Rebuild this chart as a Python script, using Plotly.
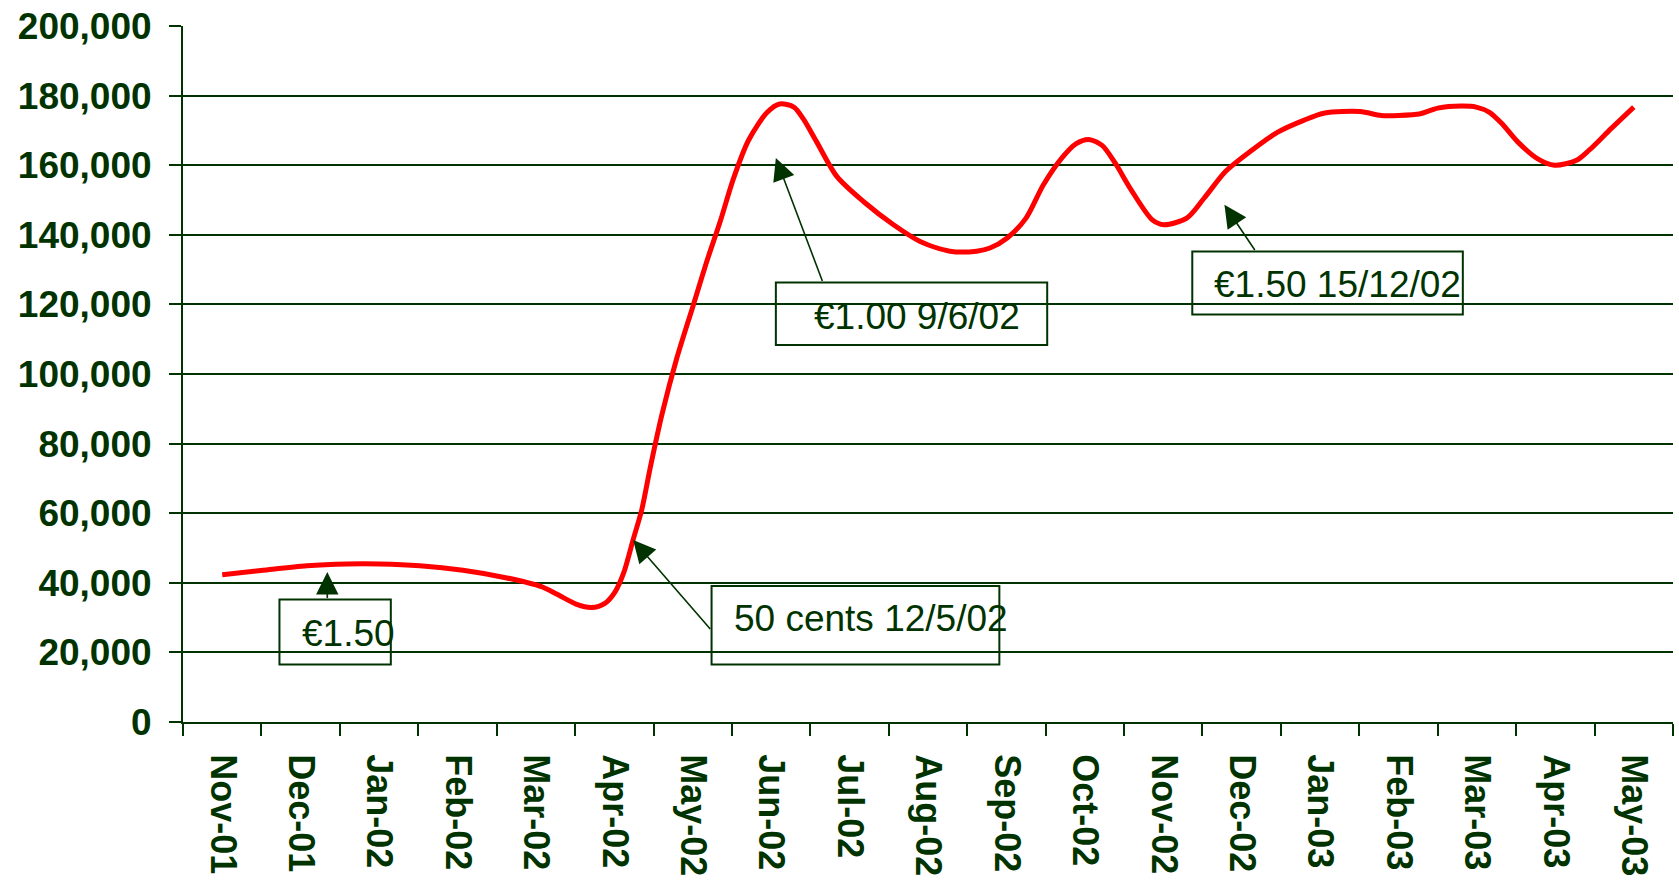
import plotly.graph_objects as go

months = ['Nov-01', 'Dec-01', 'Jan-02', 'Feb-02', 'Mar-02', 'Apr-02', 'May-02',
          'Jun-02', 'Jul-02', 'Aug-02', 'Sep-02', 'Oct-02', 'Nov-02', 'Dec-02',
          'Jan-03', 'Feb-03', 'Mar-03', 'Apr-03', 'May-03']

# position along the month axis (0 = Nov-01) and the weekly readings
week_pos = [0.00, 0.52, 1.08, 1.59, 2.01, 2.52, 3.07, 3.63, 4.07, 4.27, 4.52,
            4.71, 4.88, 5.01, 5.12, 5.24, 5.35, 5.46, 5.61, 5.80, 6.01, 6.18,
            6.35, 6.52, 6.71, 6.95, 7.11, 7.29, 7.41, 7.58, 7.84, 8.18, 8.56,
            8.90, 9.28, 9.62, 9.79, 10.01, 10.25, 10.47, 10.70, 10.89, 11.05,
            11.22, 11.39, 11.58, 11.86, 12.01, 12.30, 12.52, 12.79, 13.02,
            13.46, 13.79, 14.06, 14.51, 14.78, 15.00, 15.28, 15.50, 15.80,
            15.99, 16.16, 16.32, 16.52, 16.77, 16.99, 17.27, 17.43, 17.71, 18.00]
visitors = [42300, 43600, 44900, 45400, 45400, 44900, 43600, 41400, 38900, 36700, 33800,
            32900, 34100, 37400, 42900, 52400, 61000, 73300, 88600, 104800, 120000, 132400,
            143800, 156200, 167100, 175200, 177600, 176700, 173300, 166700, 156700, 149500, 142900,
            138100, 135300, 135300, 136200, 139100, 144800, 154300, 161900, 166200, 167400,
            165700, 160500, 153300, 144300, 142900, 144800, 150500, 158100, 162400,
            169500, 172900, 175000, 175400, 174300, 174300, 174800, 176400, 177000,
            176700, 175200, 171900, 166700, 161900, 160000, 161400, 164300, 170500, 176700]

GREEN = '#003300'
FONT = 'Arial, Liberation Sans, sans-serif'

fig = go.Figure()
fig.add_trace(go.Scatter(
    x=week_pos, y=visitors, mode='lines',
    line=dict(color='#ff0000', width=5, shape='spline', smoothing=0.8),
    showlegend=False))

# callout boxes: (x0, x1, y0, y1, text x, text y, label)
callouts = [
    (0.73, 2.15, 16500, 35200, 0.99, 25400, '€1.50'),
    (6.24, 9.91, 16500, 39100, 6.50, 29800, '50 cents 12/5/02'),
    (7.06, 10.52, 108300, 126300, 7.52, 116500, '€1.00 9/6/02'),
    (12.37, 15.82, 117100, 135200, 12.62, 125700, '€1.50 15/12/02'),
]
for x0, x1, y0, y1, tx, ty, label in callouts:
    fig.add_shape(type='rect', xref='x', yref='y', x0=x0, x1=x1, y0=y0, y1=y1,
                  line=dict(color=GREEN, width=2), fillcolor='rgba(0,0,0,0)')
    fig.add_annotation(x=tx, y=ty, text=label, showarrow=False,
                       xanchor='left', yanchor='middle',
                       font=dict(family=FONT, size=37, color=GREEN))

# arrows: (tail x, tail y, head x, head y)
arrows = [
    (1.34, 35200, 1.34, 43100),
    (6.24, 26300, 5.24, 52300),
    (7.66, 126300, 7.06, 162100),
    (13.18, 135200, 12.78, 148600),
]
for ax, ay, hx, hy in arrows:
    fig.add_annotation(x=hx, y=hy, ax=ax, ay=ay, xref='x', yref='y',
                       axref='x', ayref='y', text='', showarrow=True,
                       arrowhead=2, arrowsize=2.8, arrowwidth=1.6,
                       arrowcolor=GREEN)

fig.update_layout(
    width=1679, height=882,
    margin=dict(l=183, r=6, t=24, b=158),
    plot_bgcolor='white', paper_bgcolor='white',
    font=dict(family=FONT, color=GREEN),
    xaxis=dict(
        range=[-0.5, 18.5], tickmode='array',
        tickvals=list(range(len(months))), ticktext=months,
        tickangle=90, ticks='', showgrid=False, zeroline=False,
        showline=True, linecolor=GREEN, linewidth=2,
        tickfont=dict(family=FONT, size=36, color=GREEN, weight='bold'),
        ticklabelstandoff=23,
        minor=dict(tickmode='array',
                   tickvals=[i - 0.5 for i in range(len(months) + 1)],
                   ticks='outside', ticklen=12, tickwidth=2,
                   tickcolor=GREEN, showgrid=False)),
    yaxis=dict(
        range=[0, 200000], tickmode='linear', tick0=0, dtick=20000,
        tickformat=',', showgrid=True, gridcolor=GREEN, gridwidth=2,
        ticks='outside', ticklen=12, tickwidth=2, tickcolor=GREEN,
        showline=True, linecolor=GREEN, linewidth=2, zeroline=False,
        tickfont=dict(family=FONT, size=37, color=GREEN, weight='bold'),
        ticklabelstandoff=10),
)

fig.write_html("out.html", config={'displayModeBar': False},
               post_script="document.body.style.margin='0';")
